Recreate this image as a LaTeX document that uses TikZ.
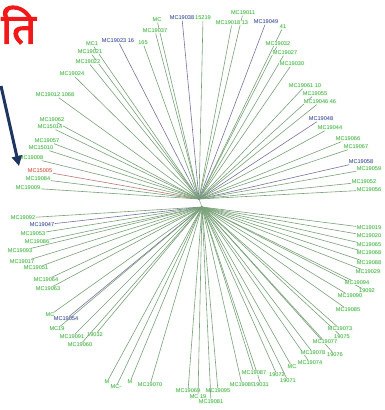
\documentclass[tikz,border=0pt]{standalone}
\usepackage{fontspec}
\setmainfont{Liberation Sans}
\newfontfamily\devfont[Script=Devanagari, FakeBold=2.5]{Noto Sans}
\usetikzlibrary{arrows.meta}
\definecolor{tgreen}{HTML}{3DA63D}
\definecolor{tblue}{HTML}{3A2C9E}
\definecolor{tred}{HTML}{E03A3A}
\definecolor{hred}{HTML}{F01818}
\definecolor{navy}{HTML}{1E3560}
\tikzset{
  taxon/.style   = {font=\fontsize{5.6}{6}\selectfont, inner sep=0.5pt, fill=green!6},
  branch/.style  = {line width=0.6pt},
  pointer/.style = {-{Triangle[length=10pt,width=10pt]}, draw=navy, line width=3pt},
  heading/.style = {font=\devfont\fontsize{42}{46}\selectfont, text=hred, inner sep=0pt},
}

\begin{document}
\begin{tikzpicture}[x=1pt, y=-1pt]
  \useasboundingbox (0,0) rectangle (384,410);
  \node[heading, anchor=west] (title) at (1,25) {ति};
  \coordinate (up) at (199,199);
  \coordinate (dn) at (202,207);
  \draw[branch, draw=gray!70] (up) -- (dn);
  % taxa above the centre
  \foreach \px/\py/\lab/\col [count=\i] in {
      157/20/MC/tgreen, 182/18/MC19038/tblue, 203/18/15219/tgreen,
      243/13/MC19011/tgreen, 232/23/MC19018 13/tgreen, 266/22/MC19049/tblue,
      283/27/41/tgreen, 155/31/MC19037/tgreen, 92/44/MC1/tgreen,
      118/41/MC19023 16/tblue, 143/43/165/tgreen, 90/52/MC19021/tgreen,
      88/62/MC19022/tgreen, 72/74/MC19024/tgreen, 55/95/MC19012 1068/tgreen,
      52/120/MC19062/tgreen, 50/127/MC15014/tgreen, 47/141/MC19057/tgreen,
      41/148/MC15010/tgreen, 31/158/MC19008/tgreen, 40/171/MC15005/tred,
      38/179/MC19084/tgreen, 28/188/MC19009/tgreen, 278/44/MC19032/tgreen,
      285/53/MC19027/tgreen, 292/64/MC19030/tgreen, 305/86/MC19061 10/tgreen,
      315/94/MC19055/tgreen, 320/102/MC19046 46/tgreen, 321/119/MC19048/tblue,
      330/128/MC19044/tgreen, 348/139/MC19066/tgreen, 356/147/MC19067/tgreen,
      361/162/MC19058/tblue, 369/169/MC19059/tgreen, 364/182/MC19052/tgreen,
      369/190/MC19056/tgreen} {
    \node[taxon, text=\col] (u\i) at (\px,\py) {\lab};
    \draw[branch, draw=\col!45!gray!85] (up) -- (u\i);
  }
  % taxa below the centre
  \foreach \px/\py/\lab/\col [count=\i] in {
      23/218/MC19092/tgreen, 42/225/MC19047/tblue, 33/234/MC19053/tgreen,
      37/242/MC19086/tgreen, 20/251/MC19093/tgreen, 22/262/MC19017/tgreen,
      36/268/MC19051/tgreen, 46/280/MC19064/tgreen, 48/289/MC19063/tgreen,
      50/315/MC/tgreen, 66/319/MC19054/tblue, 57/329/MC19/tgreen,
      72/337/MC19091/tgreen, 95/335/19032/tgreen, 80/345/MC19060/tgreen,
      107/382/M/tgreen, 116/387/MC-/tgreen, 130/382/M/tgreen,
      150/385/MC19070/tgreen, 188/391/MC19069/tgreen, 198/397/MC 19/tgreen,
      218/391/MC19095/tgreen, 211/402/MC19081/tgreen, 242/385/MC19089/tgreen,
      261/385/19031/tgreen, 254/373/MC19087/tgreen, 277/375/19072/tgreen,
      288/381/19071/tgreen, 292/367/MC/tgreen, 310/363/MC19074/tgreen,
      313/353/MC19078/tgreen, 335/355/19076/tgreen, 325/342/MC19077/tgreen,
      342/337/19075/tgreen, 340/329/MC19073/tgreen, 348/310/MC19085/tgreen,
      350/296/MC19090/tgreen, 367/291/19092/tgreen, 357/283/MC19094/tgreen,
      368/272/MC19029/tgreen, 369/263/MC19088/tgreen, 369/253/MC19068/tgreen,
      369/245/MC19065/tgreen, 369/236/MC19020/tgreen, 369/228/MC19019/tgreen} {
    \node[taxon, text=\col] (d\i) at (\px,\py) {\lab};
    \draw[branch, draw=\col!45!gray!85] (dn) -- (d\i);
  }
  \coordinate (arrtail) at (1,86);
  \coordinate (arrhead) at (19,166);
  \draw[pointer] (arrtail) -- (arrhead);
\end{tikzpicture}
\end{document}
